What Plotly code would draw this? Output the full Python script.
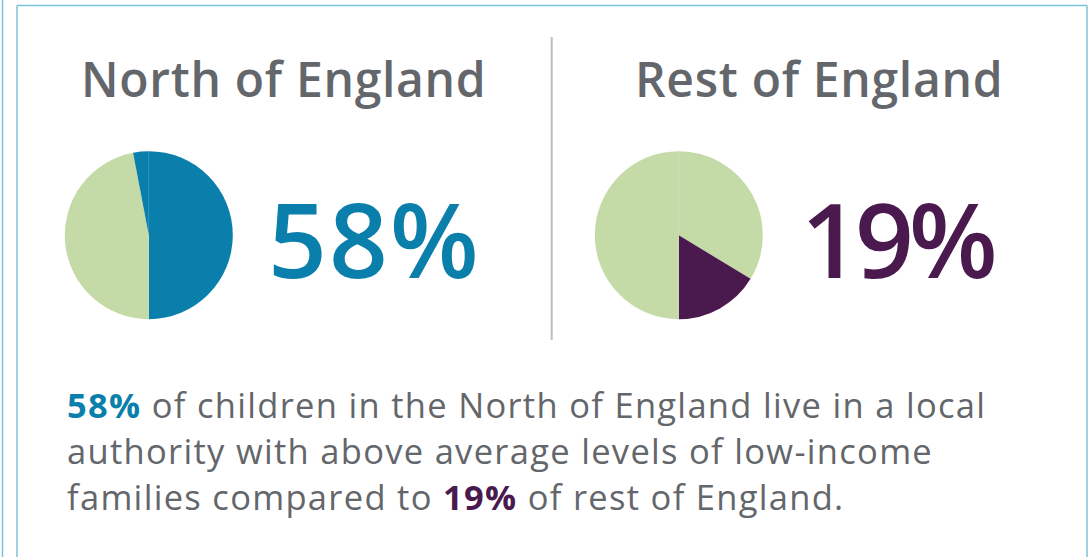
import plotly.graph_objects as go

W, H = 1092, 557

# Data
regions = ["North of England", "Rest of England"]
headline_pct = ["58%", "19%"]
north_labels = ["Above average (a)", "Other", "Above average (b)"]
north_values = [50, 47, 3]
rest_labels = ["Other (a)", "Above average", "Other (b)"]
rest_values = [33.7, 16.3, 50]

BLUE = "#0B7FAB"
PURPLE = "#4A1A4F"
GREEN = "#C5DBA7"
GREY = "#63666A"
FRAME = "#7EC2D7"
FONT = "Open Sans"

def px_x(x):
    return x / W

def px_y(y):
    return 1 - y / H

def dom(cx, cy, r):
    return dict(x=[px_x(cx - r), px_x(cx + r)], y=[px_y(cy + r), px_y(cy - r)])

def spaced(txt, ls):
    return f"<span style='letter-spacing:{ls}px'>{txt}</span>"

fig = go.Figure()
fig.add_trace(go.Pie(
    labels=north_labels, values=north_values, sort=False, direction="clockwise",
    rotation=0, textinfo="none", hoverinfo="label+value", showlegend=False,
    marker=dict(colors=[BLUE, GREEN, BLUE], line=dict(width=0)),
    domain=dom(148.8, 235.2, 84)))
fig.add_trace(go.Pie(
    labels=rest_labels, values=rest_values, sort=False, direction="clockwise",
    rotation=0, textinfo="none", hoverinfo="label+value", showlegend=False,
    marker=dict(colors=[GREEN, PURPLE, GREEN], line=dict(width=0)),
    domain=dom(678.8, 235.2, 84)))

ann = []
# Titles
for txt, cx in zip(regions, [283, 819]):
    ann.append(dict(text=spaced(txt, 0.7), x=px_x(cx), y=px_y(78), xref="paper", yref="paper",
                    xanchor="center", yanchor="middle", showarrow=False,
                    font=dict(family=FONT, size=48, color=GREY, weight=600)))
# Big percents
for txt, cx, col, ls in zip(headline_pct, [374.5, 897.5], [BLUE, PURPLE], [2, -5]):
    ann.append(dict(text=spaced(txt, ls), x=px_x(cx), y=px_y(238), xref="paper", yref="paper",
                    xanchor="center", yanchor="middle", showarrow=False,
                    font=dict(family=FONT, size=103, color=col, weight=600)))
# Body text
lines = [
    f"<b><span style='color:{BLUE}'>{headline_pct[0]}</span></b> of children in the North of England live in a local",
    "authority with above average levels of low-income",
    f"families compared to <b><span style='color:{PURPLE}'>{headline_pct[1]}</span></b> of rest of England.",
]
for i, ln in enumerate(lines):
    ann.append(dict(text=spaced(ln, 1.3), x=px_x(65), y=px_y(404 + 46 * i), xref="paper", yref="paper",
                    xanchor="left", yanchor="middle", align="left", showarrow=False,
                    font=dict(family=FONT, size=34.5, color=GREY)))
fig.update_layout(annotations=ann)

shapes = [
    dict(type="line", xref="paper", yref="paper", x0=px_x(2.5), x1=px_x(2.5), y0=0, y1=1,
         line=dict(color=FRAME, width=1.5)),
    dict(type="line", xref="paper", yref="paper", x0=px_x(17), x1=px_x(17), y0=0, y1=px_y(5.5),
         line=dict(color=FRAME, width=1.5)),
    dict(type="line", xref="paper", yref="paper", x0=px_x(17), x1=px_x(1087), y0=px_y(5.5), y1=px_y(5.5),
         line=dict(color=FRAME, width=1.5)),
    dict(type="line", xref="paper", yref="paper", x0=px_x(1087), x1=px_x(1087), y0=0, y1=px_y(5.5),
         line=dict(color=FRAME, width=1.5)),
    dict(type="line", xref="paper", yref="paper", x0=px_x(551.7), x1=px_x(551.7), y0=px_y(340), y1=px_y(37),
         line=dict(color="#BDBDBD", width=2)),
]
fig.update_layout(shapes=shapes, width=W, height=H, margin=dict(l=0, r=0, t=0, b=0),
                  paper_bgcolor="white", plot_bgcolor="white")
fig.write_html("out.html", config={"displayModeBar": False},
               post_script="document.body.style.margin='0px';")
